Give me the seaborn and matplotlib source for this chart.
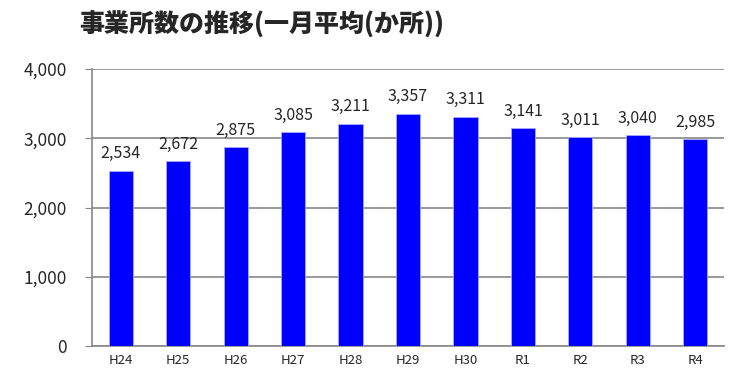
import matplotlib
matplotlib.use('Agg')
import matplotlib.pyplot as plt
import seaborn as sns
import pandas as pd
from matplotlib.ticker import FuncFormatter

# Data
years = ['H24', 'H25', 'H26', 'H27', 'H28', 'H29', 'H30', 'R1', 'R2', 'R3', 'R4']
counts = [2534, 2672, 2875, 3085, 3211, 3357, 3311, 3141, 3011, 3040, 2985]
y_ticks = [0, 1000, 2000, 3000, 4000]
title = '事業所数の推移(一月平均(か所))'

df = pd.DataFrame({'year': years, 'count': counts})

sns.set_style('white')
plt.rcParams['font.family'] = ['Noto Sans CJK JP', 'DejaVu Sans']

fig = plt.figure(figsize=(7.5, 3.81), dpi=100)
ax = fig.add_axes([92 / 750, 1 - 346 / 381, (724 - 92) / 750, (346 - 69) / 381])

sns.barplot(data=df, x='year', y='count', color='#0000ff', saturation=1,
            width=0.42, edgecolor='#aaaaff', linewidth=0.6, ax=ax, zorder=3)

ax.set_ylim(0, 4000)
ax.set_xlim(-0.5, len(years) - 0.5)
ax.set_yticks(y_ticks)
ax.yaxis.set_major_formatter(FuncFormatter(lambda v, p: f'{int(v):,}'))
ax.grid(axis='y', color='#888888', linewidth=1.2, zorder=0)
ax.set_xlabel('')
ax.set_ylabel('')

for s in ['top', 'right']:
    ax.spines[s].set_visible(False)
for s in ['left', 'bottom']:
    ax.spines[s].set_color('#888888')
    ax.spines[s].set_linewidth(1.2)

# y ticks outward, x ticks at category boundaries
ax.tick_params(axis='y', direction='out', length=5, color='#888888', labelsize=12.5, pad=13)
ax.set_xticks(range(len(years)))
ax.set_xticklabels(years)
ax.set_xticks([i - 0.5 for i in range(len(years) + 1)], minor=True)
ax.tick_params(axis='x', which='major', length=0, labelsize=9.5, pad=6)
ax.tick_params(axis='x', which='minor', direction='out', length=4, color='#888888')
ax.tick_params(left=True, bottom=True)

for c in ax.containers:
    ax.bar_label(c, labels=[f'{v:,}' for v in counts], padding=6, fontsize=11.5)

fig.text(262 / 750, 1 - 24 / 381, title, ha='center', va='center',
         fontsize=18, fontweight='black')

fig.savefig('out.png', dpi=100)
